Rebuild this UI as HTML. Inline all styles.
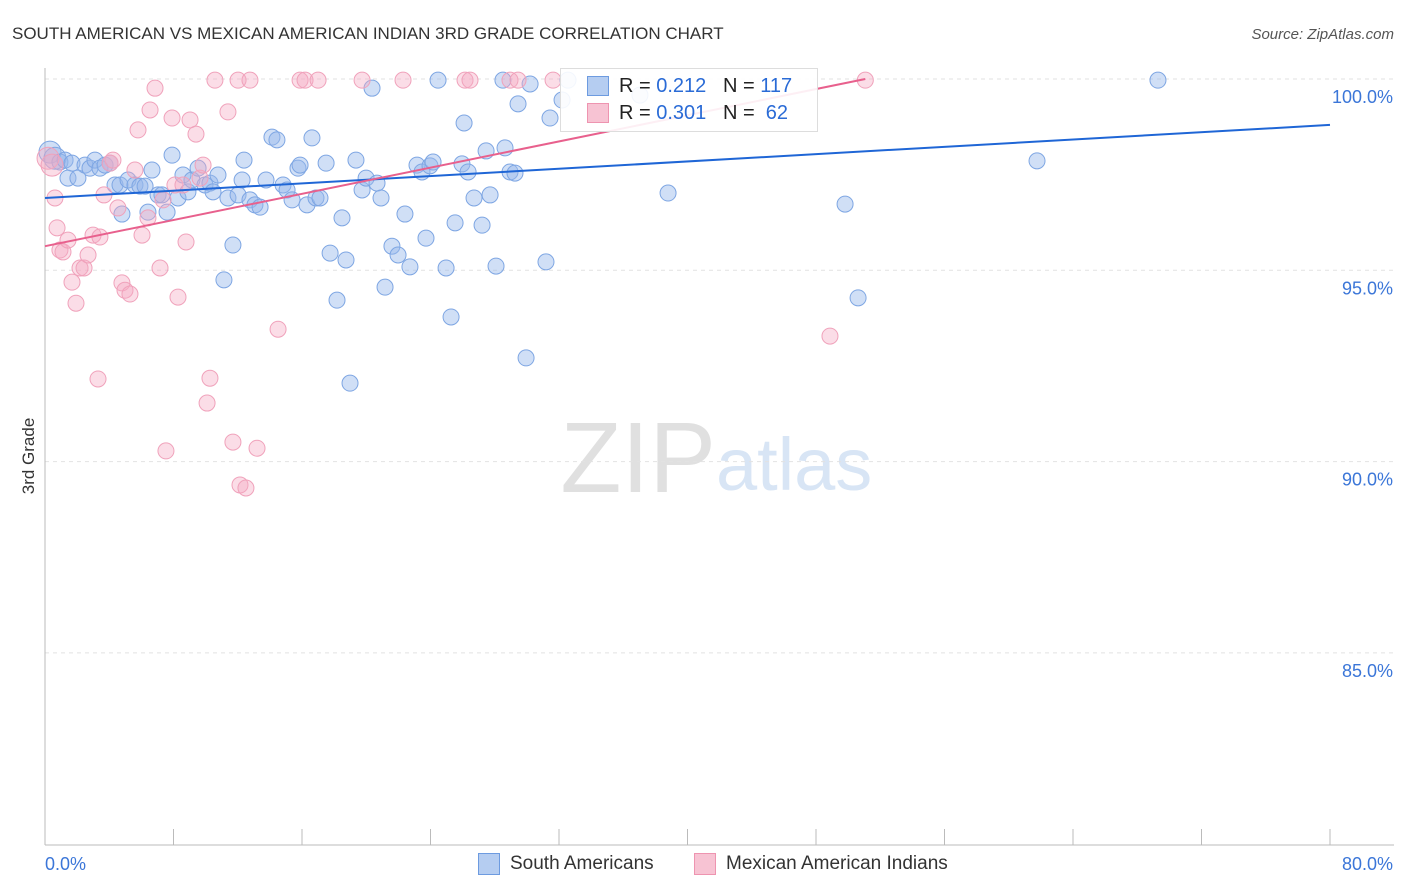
<!DOCTYPE html>
<html><head><meta charset="utf-8">
<style>
body{margin:0;background:#fff;font-family:"Liberation Sans",sans-serif;}
#wrap{position:relative;width:1406px;height:892px;overflow:hidden;}
svg text{font-family:"Liberation Sans",sans-serif;}
</style></head>
<body>
<div id="wrap">
<svg id="chart" width="1406" height="892">
<text x="12" y="39" font-size="17" fill="#333">SOUTH AMERICAN VS MEXICAN AMERICAN INDIAN 3RD GRADE CORRELATION CHART</text>
<text x="1394" y="39" font-size="15" fill="#555" text-anchor="end" font-style="italic">Source: ZipAtlas.com</text>
<text x="34" y="456" font-size="17" fill="#333" text-anchor="middle" transform="rotate(-90 34 456)">3rd Grade</text>
<text x="716" y="492" font-size="100" fill="#e0e0e0" text-anchor="end" font-family="Liberation Serif">ZIP</text>
<text x="716" y="490" font-size="74" fill="#d8e5f5">atlas</text>
<g id="grid"></g><g id="pts"></g><g id="lines"></g>
</svg>
<div style="position:absolute;left:560px;top:68px;width:256px;height:62px;background:rgba(255,255,255,0.9);border:1px solid #ddd;font-size:20px;color:#222">
 <div style="position:absolute;left:26px;top:7px;width:20px;height:18px;background:#b5cdf1;border:1px solid #6d9be0"></div>
 <div style="position:absolute;left:58px;top:6px">R = <span style="color:#2a6bd6">0.212</span>&nbsp;&nbsp;&nbsp;N = <span style="color:#2a6bd6">117</span></div>
 <div style="position:absolute;left:26px;top:34px;width:20px;height:18px;background:#f7c3d3;border:1px solid #ee94b0"></div>
 <div style="position:absolute;left:58px;top:33px">R = <span style="color:#2a6bd6">0.301</span>&nbsp;&nbsp;&nbsp;N = &nbsp;<span style="color:#2a6bd6">62</span></div>
</div>
<div style="position:absolute;left:478px;top:853px;width:20px;height:20px;background:#b5cdf1;border:1px solid #6d9be0"></div>
<div style="position:absolute;left:510px;top:853px;font-size:19px;color:#333">South Americans</div>
<div style="position:absolute;left:694px;top:853px;width:20px;height:20px;background:#f7c3d3;border:1px solid #ee94b0"></div>
<div style="position:absolute;left:726px;top:853px;font-size:19px;color:#333">Mexican American Indians</div>
</div>
<script>
const blueX=[0.31,0.62,0.93,1.25,1.43,1.68,2.05,2.49,2.80,3.11,3.42,3.74,4.05,4.36,4.67,4.79,5.17,5.60,5.91,6.23,6.41,6.66,7.04,7.28,7.60,7.91,8.28,8.59,8.90,9.15,9.53,9.96,10.27,10.46,10.77,11.14,11.39,11.70,12.02,12.27,12.39,12.76,13.07,13.39,13.76,14.13,14.44,14.82,15.07,15.38,15.75,15.88,16.31,16.62,16.87,17.12,17.50,17.75,18.18,18.49,18.74,18.99,19.36,19.74,19.99,20.36,20.67,20.92,21.17,21.60,21.98,22.41,22.72,23.16,23.47,23.72,23.97,24.16,24.47,24.97,25.28,25.53,25.96,26.09,26.34,26.71,27.21,27.46,27.71,28.08,28.51,28.64,28.95,29.26,29.45,29.95,30.20,31.19,31.44,32.19,32.56,37.04,38.79,49.81,50.62,61.76,69.29];
const blueY=[98.09,97.93,97.83,97.88,97.41,97.80,97.41,97.75,97.67,97.88,97.67,97.75,97.80,97.23,97.23,96.47,97.36,97.23,97.20,97.20,96.52,97.62,96.97,96.97,96.52,98.01,96.89,97.49,97.05,97.36,97.67,97.23,97.28,97.05,97.49,94.75,96.89,95.66,96.97,97.36,97.88,96.84,96.71,96.65,97.36,98.48,98.41,97.23,97.10,96.84,97.67,97.75,96.71,98.46,96.89,96.89,97.80,95.45,94.22,96.37,95.27,92.05,97.88,97.10,97.41,99.76,97.28,96.89,94.56,95.63,95.40,96.47,95.09,97.75,97.57,95.84,97.73,97.83,99.97,95.06,93.78,96.24,97.78,98.85,97.57,96.89,96.18,98.12,96.97,95.11,99.97,98.20,97.57,97.54,99.35,92.71,99.87,95.22,98.98,99.45,99.97,99.58,97.02,96.73,94.28,97.86,99.97];
const pinkX=[0.19,0.44,0.62,0.75,0.93,1.12,1.43,1.68,1.93,2.18,2.43,2.68,2.99,3.30,3.42,3.67,4.05,4.23,4.54,4.79,4.98,5.29,5.60,5.79,6.04,6.41,6.54,6.85,7.16,7.35,7.53,7.91,8.09,8.28,8.59,8.78,9.03,9.40,9.65,9.84,10.09,10.27,10.58,11.39,11.70,12.02,12.14,12.51,12.76,13.20,14.51,15.88,16.19,17.00,19.74,22.29,26.15,26.46,28.95,29.45,31.63,48.87,51.07];
const pinkY=[97.93,97.75,96.89,96.11,95.53,95.48,95.79,94.69,94.14,95.06,95.06,95.40,95.92,92.16,95.87,96.97,97.80,97.88,96.63,94.67,94.48,94.38,97.62,98.67,95.92,96.37,99.19,99.76,95.06,96.84,90.28,98.98,97.23,94.30,97.23,95.74,98.93,98.56,97.41,97.75,91.53,92.18,99.97,99.14,90.51,99.97,89.39,89.31,99.97,90.35,93.46,99.97,99.97,99.97,99.97,99.97,99.97,99.97,99.97,99.97,99.97,93.28,99.97];
const blueTrendX=[0,80];
const blueTrendY=[96.89,98.80];
const pinkTrendX=[0,51.07];
const pinkTrendY=[95.63,100.0];
const yTicks=[100,95,90,85];
const yTickLabels=["100.0%","95.0%","90.0%","85.0%"];
const xTicks=[0,8,16,24,32,40,48,56,64,72,80];
const xEndLabels=["0.0%","80.0%"];
const NS="http://www.w3.org/2000/svg";
const X=v=>45+v/80*1285;
const Y=v=>79+(100-v)/5*191.3;
function mk(tag,attrs,parent){const e=document.createElementNS(NS,tag);for(const k in attrs)e.setAttribute(k,attrs[k]);parent.appendChild(e);return e;}
const grid=document.getElementById('grid'),pts=document.getElementById('pts'),lines=document.getElementById('lines');
yTicks.forEach((t,i)=>{
 const l=mk('line',{x1:45,x2:1394,y1:Y(t),y2:Y(t),stroke:'#e2e2e2','stroke-dasharray':'4,4'},grid);
 
 
 const tx=mk('text',{x:1393,y:Y(t)+24,'font-size':18,fill:'#3b76d8','text-anchor':'end'},grid);
 tx.textContent=yTickLabels[i];
 
 
});
const ya=mk('line',{x1:45,x2:45,y1:68,y2:845,stroke:'#bbb'},grid);


const xa=mk('line',{x1:45,x2:1394,y1:845,y2:845,stroke:'#bbb'},grid);


xTicks.forEach(t=>{
 const l=mk('line',{x1:X(t),x2:X(t),y1:829,y2:845,stroke:'#bbb'},grid);
 
 
});
const xl0=mk('text',{x:45,y:870,'font-size':18,fill:'#3b76d8'},grid);xl0.textContent=xEndLabels[0];


const xl1=mk('text',{x:1393,y:870,'font-size':18,fill:'#3b76d8','text-anchor':'end'},grid);xl1.textContent=xEndLabels[1];


blueX.forEach((v,i)=>{
 const c=mk('circle',{cx:X(v),cy:Y(blueY[i]),r:i<2?11:8,fill:'rgba(150,185,235,0.45)',stroke:'#7ea6e3','stroke-width':1},pts);
 
 
});
pinkX.forEach((v,i)=>{
 const c=mk('circle',{cx:X(v),cy:Y(pinkY[i]),r:i<2?11:8,fill:'rgba(245,170,195,0.4)',stroke:'#f0a2bb','stroke-width':1},pts);
 
 
});
const bl=mk('line',{x1:X(blueTrendX[0]),y1:Y(blueTrendY[0]),x2:X(blueTrendX[1]),y2:Y(blueTrendY[1]),stroke:'#1f66d6','stroke-width':2},lines);


const pl=mk('line',{x1:X(pinkTrendX[0]),y1:Y(pinkTrendY[0]),x2:X(pinkTrendX[1]),y2:Y(pinkTrendY[1]),stroke:'#e8608d','stroke-width':2},lines);


</script>
</body></html>
